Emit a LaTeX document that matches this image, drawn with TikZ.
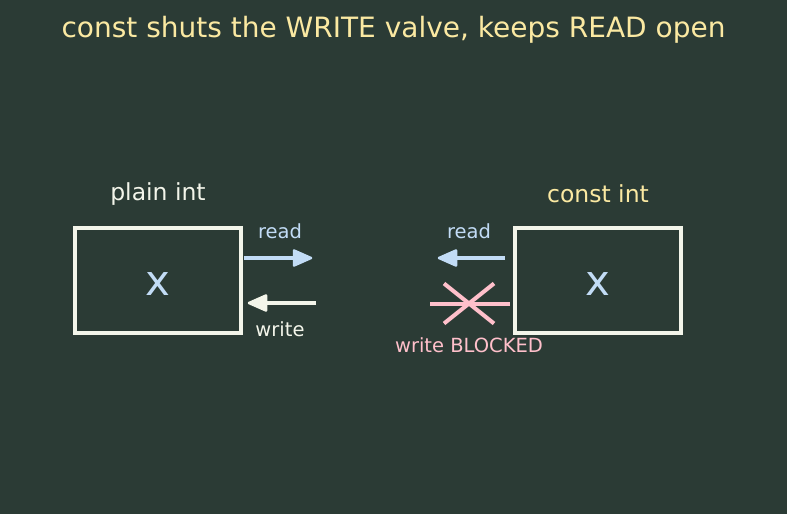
\documentclass[tikz,border=0pt]{standalone}
\usepackage{fontspec}
\setmainfont{DejaVu Sans}
\definecolor{bg}{HTML}{2B3B35}
\definecolor{titleyel}{HTML}{FBE9A2}
\definecolor{boxw}{HTML}{F3F5EA}
\definecolor{lblue}{HTML}{C2DCF6}
\definecolor{pinkx}{HTML}{FFC0CB}
\begin{document}
\begin{tikzpicture}[x=1pt,y=-1pt,
  cell/.style={draw=boxw, line width=4pt, minimum width=166pt, minimum height=105pt, inner sep=0pt},
  bigx/.style={text=lblue, font=\fontsize{42}{46}\selectfont, inner sep=0pt},
  lbl/.style={font=\fontsize{19.5}{23}\selectfont, inner sep=0pt},
  head/.style={font=\fontsize{23.5}{28}\selectfont, inner sep=0pt},
  shaft/.style={line width=4pt},
  tiphead/.style={line width=2.5pt, line join=round},
  crossln/.style={draw=pinkx, line width=4pt}]
\fill[bg] (0,0) rectangle (787,514);
\useasboundingbox (0,0) rectangle (787,514);
\node[text=titleyel, font=\fontsize{28}{33}\selectfont, inner sep=0pt] (title) at (393.5,30) {const shuts the WRITE valve, keeps READ open};
% left
\node[cell] (plain) at (158,280.5) {};
\node[bigx] (px) at (158,284) {x};
\node[head, text=boxw] (plainlbl) at (158,194) {plain int};
\coordinate (r1a) at (244,258);
\coordinate (r1b) at (311,258);
\draw[shaft, draw=lblue] (r1a) -- ([xshift=-14pt]r1b);
\filldraw[tiphead, draw=lblue, fill=lblue] (r1b) -- ++(-17,-7.5) -- ++(0,15) -- cycle;
\node[lbl, text=lblue] (r1lbl) at (280,231) {read};
\coordinate (w1a) at (316,303);
\coordinate (w1b) at (249,303);
\draw[shaft, draw=boxw] (w1a) -- ([xshift=14pt]w1b);
\filldraw[tiphead, draw=boxw, fill=boxw] (w1b) -- ++(17,-7.5) -- ++(0,15) -- cycle;
\node[lbl, text=boxw] (w1lbl) at (280,329) {write};
% right
\node[cell] (const) at (598,280.5) {};
\node[bigx] (cx) at (598,284) {x};
\node[head, text=titleyel] (constlbl) at (598,194) {const int};
\coordinate (r2a) at (505,258);
\coordinate (r2b) at (439,258);
\draw[shaft, draw=lblue] (r2a) -- ([xshift=14pt]r2b);
\filldraw[tiphead, draw=lblue, fill=lblue] (r2b) -- ++(17,-7.5) -- ++(0,15) -- cycle;
\node[lbl, text=lblue] (r2lbl) at (469,231) {read};
\coordinate (h1) at (430,303.5);
\coordinate (h2) at (510,303.5);
\coordinate (xa) at (444,283.5);
\coordinate (xb) at (494,323.5);
\coordinate (xc) at (494,283.5);
\coordinate (xd) at (444,323.5);
\draw[crossln] (h1) -- (h2);
\draw[crossln] (xa) -- (xb);
\draw[crossln] (xc) -- (xd);
\node[lbl, text=pinkx] (blk) at (469,345) {write BLOCKED};
\end{tikzpicture}
\end{document}
